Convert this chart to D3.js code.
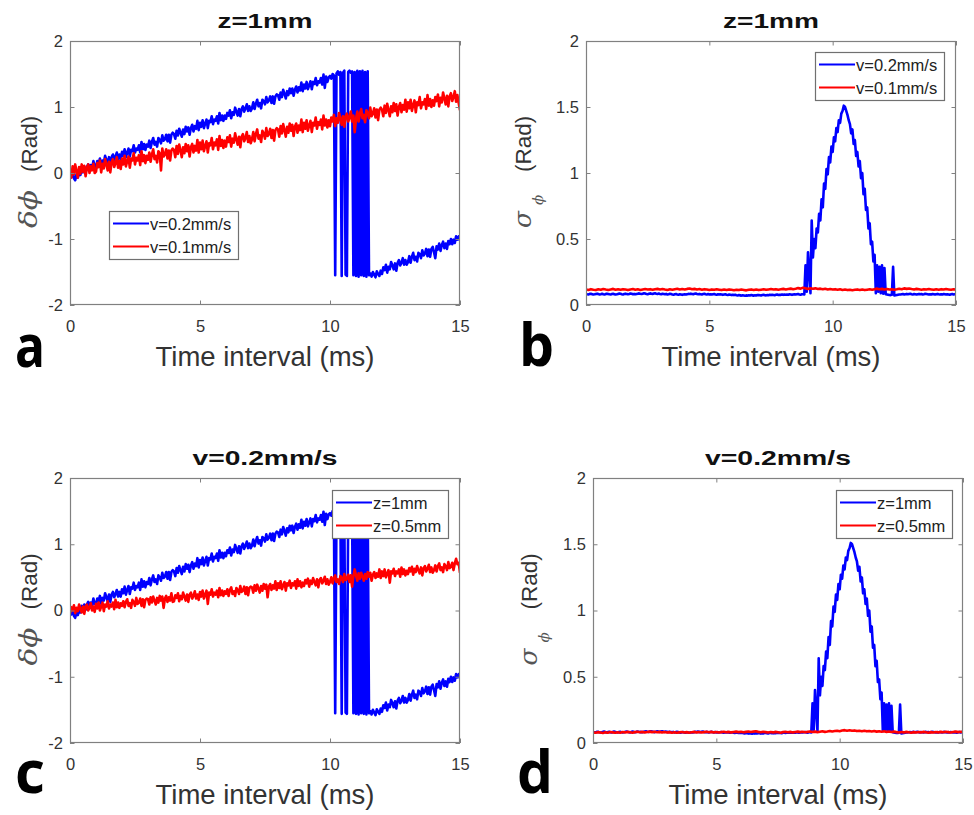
<!DOCTYPE html>
<html>
<head>
<meta charset="utf-8">
<script src="https://cdn.jsdelivr.net/npm/d3@7"></script>
<style>
  html, body { margin: 0; padding: 0; background: #fff; }
  svg { display: block; }
</style>
</head>
<body>
<svg id="fig" width="974" height="815"></svg>
<script>
// Sampling grids: 0–15 ms in 0.05 ms steps (fine) and 0.1 ms steps (coarse)
const timeFine = d3.range(301).map(i => i / 20);
const timeCoarse = d3.range(151).map(i => i / 10);

// Phase shift δϕ (rad), z = 1 mm, v = 0.2 mm/s, fine grid (wraps at ±π/2 near 10–11.5 ms)
const phaseShiftZ1V02 = [
  -0.02,-0.06,0.03,-0.08,-0.11,-0.02,-0.07,0.00,-0.03,0.07,0.01,0.09,0.01,0.09,0.13,0.05,0.12,0.07,0.18,0.10,
  0.09,0.18,0.14,0.22,0.10,0.19,0.15,0.26,0.20,0.14,0.24,0.13,0.24,0.28,0.20,0.25,0.31,0.21,0.28,0.21,
  0.32,0.26,0.36,0.24,0.31,0.37,0.25,0.35,0.33,0.42,0.31,0.37,0.35,0.42,0.31,0.47,0.36,0.44,0.35,0.43,
  0.40,0.49,0.38,0.47,0.53,0.43,0.47,0.40,0.53,0.50,0.45,0.57,0.49,0.51,0.58,0.48,0.58,0.46,0.58,0.61,
  0.59,0.52,0.64,0.57,0.67,0.61,0.55,0.66,0.59,0.70,0.63,0.69,0.58,0.68,0.73,0.63,0.71,0.67,0.79,0.65,
  0.76,0.70,0.80,0.68,0.75,0.81,0.68,0.79,0.77,0.86,0.74,0.81,0.79,0.86,0.75,0.91,0.80,0.87,0.79,0.87,
  0.82,0.91,0.87,0.95,0.83,0.92,0.88,0.99,0.93,0.87,0.97,0.86,0.97,1.01,0.93,0.98,1.04,0.94,1.01,0.94,
  0.98,1.07,0.97,1.05,1.11,1.01,1.06,0.98,1.11,1.09,1.04,1.15,1.07,1.10,1.16,1.06,1.16,1.05,1.16,1.19,
  1.18,1.11,1.22,1.15,1.26,1.20,1.13,1.24,1.18,1.28,1.21,1.28,1.17,1.26,1.31,1.22,1.30,1.25,1.37,1.24,
  1.34,1.28,1.38,1.27,1.33,1.39,1.27,1.38,1.35,1.44,1.33,1.39,1.37,1.44,1.34,1.49,1.29,1.46,1.38,1.45,
  1.47,1.43,1.50,1.48,-1.55,1.51,1.54,1.49,1.53,-1.56,1.52,1.55,-1.54,-1.56,1.53,1.55,1.52,1.54,-1.55,1.53,
  -1.56,1.55,-1.57,1.54,-1.55,1.55,-1.56,1.53,-1.57,1.54,-1.55,-1.52,-1.57,-1.50,-1.54,-1.58,-1.49,-1.53,-1.56,-1.48,
  -1.53,-1.43,-1.47,-1.39,-1.51,-1.42,-1.46,-1.35,-1.40,-1.46,-1.37,-1.48,-1.36,-1.32,-1.40,-1.36,-1.29,-1.39,-1.32,-1.39,
  -1.35,-1.26,-1.36,-1.27,-1.21,-1.32,-1.27,-1.34,-1.21,-1.23,-1.29,-1.17,-1.25,-1.22,-1.15,-1.26,-1.16,-1.27,-1.15,-1.12,
  -1.20,-1.29,-1.11,-1.16,-1.07,-1.18,-1.09,-1.04,-1.14,-1.07,-1.15,-1.03,-1.08,-1.00,-1.08,-1.01,-1.06,-0.96,-1.01,-0.96,
  -1.02
];

// Phase shift δϕ (rad), z = 1 mm, v = 0.1 mm/s, fine grid
const phaseShiftZ1V01 = [
  0.04,-0.07,0.10,-0.02,0.13,0.03,-0.07,0.09,-0.01,0.13,0.02,0.11,-0.05,0.08,0.13,0.00,0.10,0.04,0.14,0.00,
  0.02,0.15,0.09,0.19,0.01,0.14,0.07,0.21,0.13,0.04,0.17,0.01,0.16,0.21,0.09,0.15,0.24,0.08,0.18,0.06,
  0.22,0.13,0.26,0.10,0.18,0.25,0.08,0.22,0.19,0.30,0.13,0.23,0.19,0.27,0.12,0.33,0.18,0.27,0.15,0.26,
  0.20,0.31,0.17,0.28,0.36,0.21,0.26,0.16,0.33,0.30,0.04,0.37,0.25,0.28,0.36,0.22,0.34,0.19,0.34,0.37,
  0.35,0.24,0.41,0.29,0.43,0.34,0.24,0.39,0.30,0.44,0.33,0.42,0.25,0.39,0.44,0.31,0.41,0.34,0.50,0.31,
  0.46,0.36,0.49,0.33,0.41,0.48,0.31,0.45,0.42,0.53,0.36,0.46,0.42,0.51,0.35,0.56,0.41,0.50,0.38,0.49,
  0.40,0.54,0.47,0.57,0.40,0.52,0.46,0.60,0.51,0.43,0.55,0.39,0.55,0.59,0.48,0.53,0.62,0.47,0.56,0.45,
  0.51,0.62,0.48,0.59,0.66,0.52,0.57,0.47,0.64,0.60,0.52,0.68,0.56,0.59,0.67,0.53,0.65,0.49,0.65,0.68,
  0.66,0.55,0.71,0.60,0.74,0.65,0.55,0.70,0.61,0.75,0.64,0.73,0.56,0.70,0.75,0.61,0.72,0.65,0.81,0.62,
  0.76,0.67,0.80,0.64,0.72,0.79,0.62,0.76,0.72,0.84,0.67,0.77,0.73,0.81,0.66,0.87,0.72,0.81,0.69,0.80,
  0.71,0.84,0.78,0.88,0.71,0.83,0.76,0.91,0.82,0.73,0.86,0.70,0.86,0.90,0.78,0.84,0.93,0.78,0.87,0.62,
  0.82,0.93,0.78,0.90,0.97,0.83,0.88,0.77,0.95,0.91,0.83,0.99,0.86,0.90,0.98,0.84,0.96,0.80,0.96,0.99,
  0.96,0.86,1.02,0.91,1.05,0.95,0.86,1.01,0.92,1.06,0.94,1.04,0.87,1.00,1.06,0.92,1.03,0.96,1.11,0.93,
  1.07,0.98,1.11,0.94,1.03,1.10,0.92,1.07,1.03,1.15,0.98,1.07,1.04,1.12,0.97,1.18,1.02,1.12,1.00,1.10,
  1.02,1.15,1.09,1.19,1.01,1.14,1.07,1.22,1.13,1.04,1.17,1.01,1.16,1.21,1.09,1.15,1.24,1.08,1.18,1.06,
  0.95
];

// Phase shift δϕ (rad), z = 0.5 mm, v = 0.2 mm/s, fine grid
const phaseShiftZ05V02 = [
  -0.04,0.05,0.00,0.08,-0.04,0.04,-0.01,0.09,0.03,-0.03,0.06,-0.05,0.06,0.09,0.00,0.04,0.11,0.00,0.06,-0.02,
  0.10,0.03,0.12,0.00,0.06,0.12,-0.01,0.09,0.06,0.14,0.03,0.09,0.06,0.12,0.02,0.16,0.05,0.12,0.04,0.11,
  0.07,0.14,0.05,0.13,0.17,0.07,0.11,0.04,0.16,0.13,0.07,0.19,0.10,0.12,0.18,0.07,0.17,0.05,0.16,0.18,
  0.17,0.09,0.20,0.12,0.21,0.15,0.09,0.19,0.12,0.22,0.15,0.21,0.04,0.18,0.22,0.13,0.20,0.15,0.26,0.13,
  0.14,0.23,0.19,0.26,0.14,0.22,0.17,0.27,0.21,0.15,0.24,0.13,0.24,0.27,0.18,0.22,0.29,0.18,0.24,0.16,
  0.28,0.21,0.30,0.18,0.24,0.30,0.10,0.27,0.24,0.32,0.21,0.27,0.24,0.30,0.20,0.34,0.23,0.30,0.22,0.29,
  0.25,0.32,0.22,0.31,0.35,0.25,0.29,0.22,0.34,0.31,0.25,0.37,0.28,0.30,0.36,0.25,0.35,0.23,0.34,0.36,
  0.35,0.27,0.38,0.30,0.39,0.33,0.27,0.37,0.30,0.40,0.33,0.39,0.20,0.36,0.40,0.31,0.38,0.33,0.44,0.31,
  0.41,0.34,0.44,0.32,0.38,0.43,0.30,0.41,0.38,0.45,0.34,0.41,0.38,0.44,0.33,0.47,0.37,0.44,0.35,0.42,
  0.37,0.46,0.41,0.48,0.36,0.45,0.40,0.49,0.43,0.38,0.47,0.35,0.46,0.49,0.41,0.45,0.51,0.40,0.47,0.39,
  0.43,0.50,0.41,0.49,0.53,0.43,0.47,0.40,0.52,0.49,0.43,0.55,0.46,0.48,0.54,0.43,0.53,0.36,0.52,0.62,
  0.53,0.45,0.56,0.48,0.57,0.51,0.45,0.55,0.48,0.58,0.51,0.57,0.45,0.54,0.58,0.49,0.56,0.51,0.62,0.49,
  0.59,0.52,0.62,0.50,0.56,0.61,0.42,0.59,0.56,0.63,0.52,0.59,0.56,0.62,0.51,0.65,0.55,0.62,0.53,0.60,
  0.55,0.64,0.59,0.66,0.54,0.63,0.58,0.67,0.61,0.56,0.65,0.53,0.64,0.67,0.59,0.63,0.69,0.58,0.65,0.57,
  0.61,0.68,0.59,0.67,0.71,0.61,0.65,0.58,0.70,0.67,0.61,0.73,0.64,0.66,0.72,0.61,0.71,0.78,0.70,0.72,
  0.57
];

// Phase standard deviation σϕ (rad), z = 1 mm, v = 0.2 mm/s, fine grid
const phaseStdZ1V02 = [
  0.083,0.081,0.080,0.084,0.085,0.082,0.079,0.081,0.084,0.086,0.083,0.080,0.082,0.085,0.081,0.079,0.083,0.086,0.084,0.081,
  0.080,0.083,0.085,0.082,0.079,0.081,0.084,0.087,0.085,0.082,0.080,0.083,0.086,0.084,0.081,0.083,0.087,0.085,0.082,0.084,
  0.081,0.084,0.086,0.088,0.085,0.083,0.086,0.089,0.087,0.084,0.082,0.085,0.088,0.086,0.084,0.087,0.089,0.086,0.084,0.087,
  0.084,0.082,0.085,0.083,0.081,0.084,0.080,0.082,0.085,0.083,0.080,0.078,0.081,0.083,0.080,0.078,0.081,0.079,0.077,0.080,
  0.081,0.079,0.082,0.084,0.083,0.086,0.084,0.082,0.085,0.087,0.083,0.081,0.084,0.082,0.080,0.083,0.085,0.082,0.080,0.083,
  0.080,0.082,0.079,0.081,0.083,0.080,0.078,0.081,0.079,0.082,0.080,0.077,0.079,0.081,0.078,0.076,0.079,0.077,0.075,0.078,
  0.075,0.077,0.074,0.072,0.075,0.073,0.071,0.074,0.072,0.070,0.073,0.071,0.074,0.072,0.075,0.073,0.071,0.074,0.072,0.075,
  0.076,0.074,0.072,0.075,0.077,0.074,0.073,0.076,0.074,0.077,0.075,0.078,0.076,0.074,0.077,0.079,0.076,0.078,0.077,0.080,
  0.077,0.079,0.078,0.080,0.078,0.081,0.079,0.077,0.080,0.082,0.079,0.081,0.083,0.080,0.078,0.081,0.082,0.080,0.30,0.10,
  0.40,0.25,0.09,0.64,0.36,0.50,0.43,0.58,0.55,0.69,0.64,0.80,0.74,0.92,0.88,1.03,0.99,1.12,1.08,1.20,
  1.16,1.27,1.24,1.34,1.31,1.40,1.38,1.45,1.47,1.51,1.50,1.47,1.44,1.40,1.37,1.30,1.33,1.22,1.25,1.13,
  1.16,1.05,1.09,0.96,1.00,0.84,0.88,0.72,0.74,0.58,0.62,0.46,0.48,0.33,0.38,0.09,0.30,0.10,0.29,0.09,
  0.30,0.085,0.28,0.082,0.080,0.078,0.076,0.075,0.077,0.29,0.072,0.074,0.076,0.078,0.080,0.079,0.081,0.083,0.080,0.082,
  0.084,0.081,0.083,0.085,0.082,0.080,0.083,0.081,0.079,0.082,0.084,0.081,0.083,0.080,0.082,0.085,0.083,0.081,0.079,0.082,
  0.080,0.083,0.081,0.079,0.082,0.084,0.081,0.079,0.082,0.080,0.083,0.081,0.079,0.082,0.080,0.078,0.081,0.083,0.080,0.082,
  0.081
];

// Phase standard deviation σϕ (rad), z = 1 mm, v = 0.1 mm/s, coarse grid
const phaseStdZ1V01 = [
  0.118,0.114,0.120,0.116,0.113,0.119,0.115,0.121,0.117,0.114,
  0.118,0.122,0.116,0.119,0.115,0.120,0.117,0.113,0.118,0.121,
  0.116,0.119,0.114,0.118,0.121,0.117,0.120,0.115,0.119,0.122,
  0.118,0.121,0.117,0.114,0.119,0.116,0.120,0.123,0.118,0.121,
  0.117,0.122,0.125,0.119,0.122,0.118,0.121,0.116,0.120,0.117,
  0.114,0.118,0.115,0.119,0.116,0.113,0.117,0.114,0.118,0.115,
  0.112,0.116,0.113,0.117,0.114,0.111,0.115,0.118,0.114,0.117,
  0.113,0.116,0.119,0.115,0.118,0.121,0.117,0.120,0.116,0.119,
  0.122,0.118,0.121,0.124,0.120,0.123,0.128,0.124,0.131,0.126,
  0.122,0.127,0.123,0.126,0.121,0.124,0.119,0.123,0.118,0.121,
  0.117,0.120,0.116,0.119,0.114,0.117,0.113,0.116,0.112,0.115,
  0.118,0.114,0.117,0.113,0.116,0.119,0.115,0.120,0.124,0.119,
  0.122,0.118,0.121,0.117,0.120,0.116,0.119,0.123,0.119,0.126,
  0.122,0.125,0.121,0.118,0.122,0.119,0.116,0.120,0.117,0.121,
  0.118,0.115,0.119,0.116,0.120,0.117,0.121,0.118,0.115,0.119,
  0.116
];

// Phase standard deviation σϕ (rad), z = 0.5 mm, v = 0.2 mm/s, coarse grid
const phaseStdZ05V02 = [
  0.080,0.077,0.082,0.079,0.076,0.081,0.078,0.083,0.080,0.077,
  0.081,0.078,0.083,0.080,0.084,0.081,0.078,0.082,0.085,0.081,
  0.084,0.080,0.083,0.086,0.082,0.085,0.081,0.084,0.080,0.083,
  0.079,0.082,0.078,0.081,0.077,0.080,0.083,0.079,0.082,0.078,
  0.081,0.084,0.080,0.083,0.079,0.082,0.085,0.081,0.084,0.080,
  0.083,0.079,0.082,0.085,0.081,0.084,0.080,0.083,0.086,0.082,
  0.085,0.081,0.084,0.087,0.083,0.086,0.089,0.084,0.081,0.085,
  0.082,0.079,0.083,0.080,0.084,0.081,0.078,0.082,0.085,0.081,
  0.084,0.080,0.083,0.086,0.082,0.085,0.081,0.084,0.087,0.083,
  0.086,0.082,0.085,0.088,0.084,0.087,0.091,0.087,0.090,0.093,
  0.089,0.094,0.097,0.093,0.096,0.092,0.095,0.090,0.093,0.089,
  0.092,0.088,0.091,0.087,0.090,0.086,0.089,0.085,0.088,0.084,
  0.087,0.083,0.086,0.082,0.079,0.083,0.080,0.084,0.081,0.078,
  0.082,0.079,0.083,0.080,0.084,0.081,0.078,0.082,0.079,0.083,
  0.080,0.084,0.081,0.085,0.082,0.079,0.083,0.086,0.082,0.085,
  0.083
];

// Axis ticks and their labels
const timeTicks = [0, 5, 10, 15];
const timeTickLabels = ["0", "5", "10", "15"];
const shiftTicks = [-2, -1, 0, 1, 2];
const shiftTickLabels = ["-2", "-1", "0", "1", "2"];
const stdTicks = [0, 0.5, 1, 1.5, 2];
const stdTickLabels = ["0", "0.5", "1", "1.5", "2"];

// Legend entries and panel titles
const velocityLabels = ["v=0.2mm/s", "v=0.1mm/s"];
const depthLabels = ["z=1mm", "z=0.5mm"];
const panelTitles = ["z=1mm", "z=1mm", "v=0.2mm/s", "v=0.2mm/s"];
const panelLetters = ["a", "b", "c", "d"];
const seriesColors = ["#0000ff", "#ff0000"];
const timeLabel = "Time interval (ms)";

const SANS = "'Liberation Sans', Arial, Helvetica, sans-serif";
const SERIF = "'DejaVu Serif', 'Liberation Serif', serif";
const INK = "#333";
const FRAME = "#808080";

const panels = [
  { box: { x0: 70, x1: 460, y0: 41, y1: 305 }, kind: "shift",
    series: [[timeFine, phaseShiftZ1V02], [timeFine, phaseShiftZ1V01]], labels: velocityLabels,
    legend: { left: 109, top: 211 }, letterAt: { x: 15, y: 367, w: 30 },
    titleW: 95, yLabelX: 37 },
  { box: { x0: 586, x1: 956, y0: 41, y1: 305 }, kind: "std",
    series: [[timeFine, phaseStdZ1V02], [timeCoarse, phaseStdZ1V01]], labels: velocityLabels,
    legend: { right: 944, top: 52 }, letterAt: { x: 519, y: 366, w: 35 },
    titleW: 96, yLabelX: 531 },
  { box: { x0: 70, x1: 460, y0: 478, y1: 743 }, kind: "shift",
    series: [[timeFine, phaseShiftZ1V02], [timeFine, phaseShiftZ05V02]], labels: depthLabels,
    legend: { right: 448, top: 490 }, letterAt: { x: 15, y: 793, w: 30 },
    titleW: 145, yLabelX: 37 },
  { box: { x0: 593, x1: 963, y0: 478, y1: 743 }, kind: "std",
    series: [[timeFine, phaseStdZ1V02], [timeCoarse, phaseStdZ05V02]], labels: depthLabels,
    legend: { right: 952, top: 490 }, letterAt: { x: 517, y: 793, w: 36 },
    titleW: 146, yLabelX: 537 }
];

const svg = d3.select("#fig");
svg.append("rect").attr("width", 974).attr("height", 815).attr("fill", "#fff");
const defs = svg.append("defs");

panels.forEach((p, pi) => {
  const b = p.box;
  const g = svg.append("g");
  const isShift = p.kind === "shift";
  const yTicks = isShift ? shiftTicks : stdTicks;
  const yTickLabels = isShift ? shiftTickLabels : stdTickLabels;

  const x = d3.scaleLinear().domain([0, 15]).range([b.x0, b.x1]);
  const y = d3.scaleLinear().domain(isShift ? [-2, 2] : [0, 2]).range([b.y1, b.y0]);

  const clipId = "plot-clip-" + pi;
  defs.append("clipPath").attr("id", clipId)
    .append("rect").attr("x", b.x0).attr("y", b.y0)
    .attr("width", b.x1 - b.x0).attr("height", b.y1 - b.y0);

  // data traces (first series underneath, second on top)
  const traces = g.append("g").attr("clip-path", `url(#${clipId})`);
  p.series.forEach(([times, vals], si) => {
    const line = d3.line().x((d, i) => x(times[i])).y(d => y(d));
    traces.append("path").datum(vals)
      .attr("d", line)
      .attr("fill", "none")
      .attr("stroke", seriesColors[si])
      .attr("stroke-width", 2.6)
      .attr("stroke-linejoin", "round");
  });

  // axes: inward ticks on all four sides
  const styleAxis = sel => {
    sel.select(".domain").remove();
    sel.selectAll(".tick line").attr("stroke", FRAME);
    sel.selectAll(".tick text").attr("fill", INK)
      .attr("font-family", SANS).attr("font-size", 16.5);
  };
  g.append("g").attr("transform", `translate(0,${b.y1})`)
    .call(d3.axisBottom(x).tickValues(timeTicks)
      .tickFormat((d, i) => timeTickLabels[i])
      .tickSizeInner(-4.5).tickSizeOuter(0).tickPadding(15))
    .call(styleAxis);
  g.append("g").attr("transform", `translate(0,${b.y0})`)
    .call(d3.axisTop(x).tickValues(timeTicks).tickFormat("")
      .tickSizeInner(-4.5).tickSizeOuter(0))
    .call(styleAxis);
  g.append("g").attr("transform", `translate(${b.x0},0)`)
    .call(d3.axisLeft(y).tickValues(yTicks)
      .tickFormat((d, i) => yTickLabels[i])
      .tickSizeInner(-4.5).tickSizeOuter(0).tickPadding(7))
    .call(styleAxis);
  g.append("g").attr("transform", `translate(${b.x1},0)`)
    .call(d3.axisRight(y).tickValues(yTicks).tickFormat("")
      .tickSizeInner(-4.5).tickSizeOuter(0))
    .call(styleAxis);

  g.append("rect")
    .attr("x", b.x0 + 0.5).attr("y", b.y0 + 0.5)
    .attr("width", b.x1 - b.x0 - 1).attr("height", b.y1 - b.y0 - 1)
    .attr("fill", "none").attr("stroke", FRAME).attr("stroke-width", 1.2);

  const cx = (b.x0 + b.x1) / 2;
  const cy = (b.y0 + b.y1) / 2;

  // title
  g.append("text")
    .attr("x", cx).attr("y", b.y0 - 13.5)
    .attr("text-anchor", "middle")
    .attr("font-family", SANS).attr("font-weight", "bold").attr("font-size", 20)
    .attr("textLength", p.titleW).attr("lengthAdjust", "spacingAndGlyphs")
    .attr("fill", "#111")
    .text(panelTitles[pi]);

  // x-axis label
  g.append("text")
    .attr("x", cx).attr("y", b.y1 + 61)
    .attr("text-anchor", "middle")
    .attr("font-family", SANS).attr("font-size", 27.5)
    .attr("fill", INK)
    .text(timeLabel);

  // y-axis label, read bottom to top
  const yl = g.append("g").attr("transform", `translate(${p.yLabelX},0) rotate(-90)`);
  if (isShift) {
    yl.append("text")
      .attr("x", -(cy + 55)).attr("y", 0)
      .attr("font-family", SERIF).attr("font-style", "italic").attr("font-size", 25)
      .attr("textLength", 38).attr("lengthAdjust", "spacingAndGlyphs")
      .attr("fill", "#555")
      .text("δϕ");
  } else {
    yl.append("text")
      .attr("x", -(cy + 55)).attr("y", 0)
      .attr("font-family", SERIF).attr("font-style", "italic").attr("font-size", 25)
      .attr("fill", "#555")
      .text("σ");
    yl.append("text")
      .attr("x", -(cy + 32)).attr("y", 12)
      .attr("font-family", SERIF).attr("font-style", "italic").attr("font-size", 15)
      .attr("fill", "#555")
      .text("ϕ");
  }
  yl.append("text")
    .attr("x", -(cy - 1)).attr("y", 0)
    .attr("font-family", SANS).attr("font-size", 22.5)
    .attr("fill", INK)
    .text("(Rad)");

  // legend
  const lg = g.append("g");
  const entries = p.labels.map((lab, i) => ({ lab, color: seriesColors[i] }));
  const texts = entries.map((e, i) => lg.append("text")
    .attr("font-family", SANS).attr("font-size", 16.5).attr("fill", "#222")
    .attr("x", 41).attr("y", 12.5 + i * 23 + 6)
    .text(e.lab));
  const textW = d3.max(texts, t => t.node().getComputedTextLength());
  const lw = Math.round(41 + textW + 7);
  const lh = 48;
  const lx = p.legend.left !== undefined ? p.legend.left : p.legend.right - lw;
  lg.attr("transform", `translate(${lx},${p.legend.top})`);
  lg.insert("rect", ":first-child")
    .attr("x", 0.5).attr("y", 0.5).attr("width", lw).attr("height", lh)
    .attr("fill", "#fff").attr("stroke", "#707070").attr("stroke-width", 1.2);
  entries.forEach((e, i) => {
    lg.append("line")
      .attr("x1", 4).attr("x2", 40)
      .attr("y1", 12.5 + i * 23).attr("y2", 12.5 + i * 23)
      .attr("stroke", e.color).attr("stroke-width", 2.2);
  });

  // panel letter
  svg.append("text")
    .attr("x", p.letterAt.x).attr("y", p.letterAt.y)
    .attr("font-family", "'Open Sans', 'Noto Sans', sans-serif")
    .attr("font-weight", "bold").attr("font-size", 59)
    .attr("textLength", p.letterAt.w).attr("lengthAdjust", "spacingAndGlyphs")
    .attr("fill", "#000")
    .text(panelLetters[pi]);
});
</script>
</body>
</html>
